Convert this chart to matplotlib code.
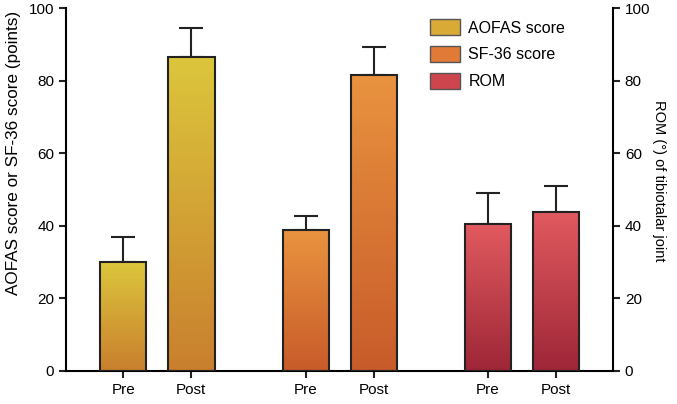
import matplotlib
matplotlib.use("Agg")
import matplotlib.pyplot as plt
import numpy as np
from matplotlib.colors import LinearSegmentedColormap
from matplotlib.patches import Patch

plt.rcParams['font.family'] = ['Liberation Sans', 'DejaVu Sans']

# datos
grupos = ["AOFAS score", "SF-36 score", "ROM"]
etiquetas = ["Pre", "Post", "Pre", "Post", "Pre", "Post"]
valores = [30, 86.5, 38.8, 81.6, 40.5, 43.8]
errores = [7, 8, 4, 7.7, 8.6, 7.2]
posiciones = [0, 1, 2.68, 3.68, 5.35, 6.35]

# colores del degradado (arriba, abajo)
colores = [("#dcc63c", "#c97f2e"),
           ("#e9933f", "#c85b2a"),
           ("#e15a5f", "#9e2637")]
colores_leyenda = ["#d9aa36", "#e07a36", "#cf454e"]

fig = plt.figure(figsize=(6.77, 4.04), dpi=100)
ax = fig.add_axes([0.0975, 0.0817, 0.808, 0.898])

ancho = 0.68
barras = ax.bar(posiciones, valores, width=ancho, color="none",
                edgecolor="#222222", linewidth=1.5, zorder=3)
ax.errorbar(posiciones, valores, yerr=[np.zeros(6), errores], fmt="none",
            ecolor="#222222", elinewidth=1.5, capsize=8.6, capthick=1.5, zorder=2)

grad = np.linspace(0, 1, 256).reshape(-1, 1)
for i, b in enumerate(barras):
    top, bot = colores[i // 2]
    cm = LinearSegmentedColormap.from_list("g%d" % i, [top, bot])
    x0 = b.get_x()
    im = ax.imshow(grad, cmap=cm, aspect="auto", zorder=2.5,
                   extent=[x0, x0 + ancho, 0, b.get_height()], origin="upper")
    im.set_clip_path(b)

ax.set_xlim(-0.84, 7.19)
ax.set_ylim(0, 100)
ax.set_xticks(posiciones)
ax.set_xticklabels(etiquetas)
ax.set_yticks([0, 20, 40, 60, 80, 100])
ax.set_ylabel("AOFAS score or SF-36 score (points)", fontsize=12.3)
ax.yaxis.set_label_coords(-0.082, 0.6)
ax.spines["top"].set_visible(False)
ax.spines["right"].set_visible(False)
for s in ["left", "bottom"]:
    ax.spines[s].set_linewidth(1.5)
ax.tick_params(width=1.5, length=5, labelsize=11, color="#222222")

ax2 = ax.twinx()
ax2.set_ylim(0, 100)
ax2.set_yticks([0, 20, 40, 60, 80, 100])
ax2.set_ylabel("ROM (°) of tibiotalar joint", fontsize=10.5, rotation=-90)
ax2.yaxis.set_label_coords(1.097, 0.525)
for s in ["top", "left", "bottom"]:
    ax2.spines[s].set_visible(False)
ax2.spines["right"].set_linewidth(1.5)
ax2.tick_params(width=1.5, length=5, labelsize=11, color="#222222")

handles = [Patch(facecolor=colores_leyenda[k], edgecolor="#555555", label=grupos[k]) for k in range(3)]
leg = ax.legend(handles=handles, loc="upper left", bbox_to_anchor=(0.639, 1.01),
                frameon=False, fontsize=11.5, handlelength=1.9, handleheight=1.2,
                labelspacing=0.65, handletextpad=0.5)

fig.savefig("out.png", dpi=100)
